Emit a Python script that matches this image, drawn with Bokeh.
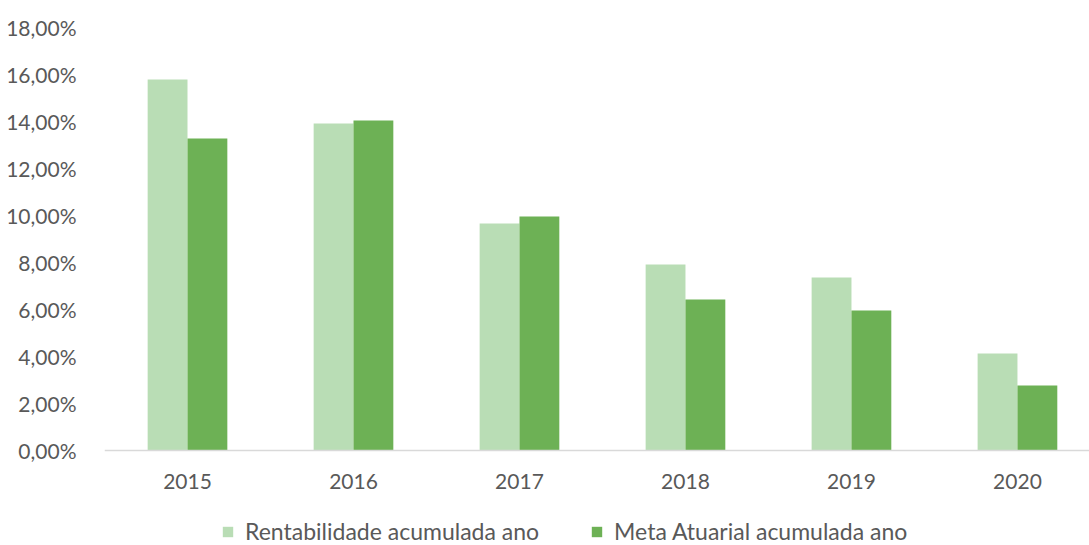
from bokeh.plotting import figure
from bokeh.models import FixedTicker, Legend, LegendItem, Range1d, Span
from bokeh.core.properties import value
from bokeh.embed import file_html
from bokeh.resources import INLINE

years = ["2015", "2016", "2017", "2018", "2019", "2020"]
rentabilidade = [15.79, 13.91, 9.66, 7.91, 7.36, 4.13]
meta_atuarial = [13.28, 14.04, 9.96, 6.43, 5.96, 2.77]
y_ticks = [0, 2, 4, 6, 8, 10, 12, 14, 16, 18]
series_names = ["Rentabilidade acumulada ano", "Meta Atuarial acumulada ano"]

LIGHT = "#B9DDB5"
DARK = "#6DB155"
TEXT = "#595959"
FONT = "Lato"

xs = list(range(len(years)))
bw = 0.24

# frame spans from top border down to the bottom of the canvas; value 0 sits 95px above the bottom
top_border, bottom_space, height = 27, 95, 545
px_per_unit = (height - top_border - bottom_space) / y_ticks[-1]
y_start = -bottom_space / px_per_unit

p = figure(width=1089, height=height, output_backend="svg", toolbar_location=None,
           x_range=Range1d(-0.5, 5.434), y_range=Range1d(y_start, y_ticks[-1]),
           min_border_left=104, min_border_top=top_border, min_border_right=0, min_border_bottom=0)
p.outline_line_color = None
p.background_fill_color = "white"
p.border_fill_color = "white"
p.xgrid.visible = False
p.ygrid.visible = False
p.xaxis.visible = False

r1 = p.vbar(x=[x - bw / 2 for x in xs], top=rentabilidade, width=bw, fill_color=LIGHT, line_color=None)
r2 = p.vbar(x=[x + bw / 2 for x in xs], top=meta_atuarial, width=bw, fill_color=DARK, line_color=None)

# y axis
p.yaxis.ticker = FixedTicker(ticks=y_ticks)
p.yaxis.major_label_overrides = {t: f"{t:.2f}".replace(".", ",") + "%" for t in y_ticks}
p.yaxis.axis_line_color = None
p.yaxis.major_tick_line_color = None
p.yaxis.minor_tick_line_color = None
p.yaxis.major_label_standoff = 22
p.yaxis.major_label_text_font = FONT
p.yaxis.major_label_text_font_size = "21px"
p.yaxis.major_label_text_color = TEXT

# category axis: baseline line + year labels
p.add_layout(Span(location=0, dimension="width", line_color="#D9D9D9", line_width=1.5))
p.text(x=xs, y=[0] * len(xs), text=years, y_offset=31, text_align="center", text_baseline="middle",
       text_font=value(FONT), text_font_size="21px", text_color=TEXT)

legend = Legend(items=[LegendItem(label=series_names[0], renderers=[r1]),
                       LegendItem(label=series_names[1], renderers=[r2])],
                orientation="horizontal", location=(117, 0),
                glyph_width=13, glyph_height=13, label_standoff=11, spacing=51,
                label_text_font=FONT, label_text_font_size="23px", label_text_color=TEXT,
                border_line_color=None, background_fill_alpha=0, margin=0, padding=0)
p.add_layout(legend, "center")

open("out.html", "w").write(file_html(p, INLINE))
